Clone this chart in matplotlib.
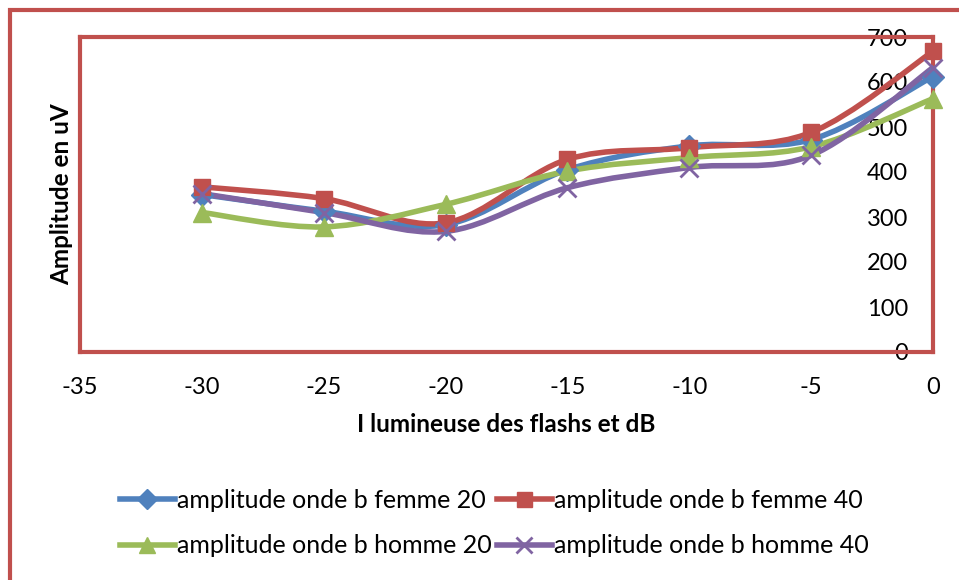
import matplotlib.pyplot as plt
from matplotlib.path import Path
from matplotlib.patches import PathPatch, Rectangle
from matplotlib.lines import Line2D

plt.rcParams['font.family'] = ['Lato', 'DejaVu Sans']
plt.rcParams['axes.unicode_minus'] = False

intensite = [-30, -25, -20, -15, -10, -5, 0]
femme_20 = [350, 313, 283, 405, 458, 472, 612]
femme_40 = [367, 341, 287, 428, 454, 488, 668]
homme_20 = [310, 278, 328, 402, 432, 456, 563]
homme_40 = [352, 310, 268, 365, 410, 437, 632]

series = [
    ("amplitude onde b femme 20", femme_20, '#4F81BD', 'D', 11),
    ("amplitude onde b femme 40", femme_40, '#C0504D', 's', 12),
    ("amplitude onde b homme 20", homme_20, '#9BBB59', '^', 13),
    ("amplitude onde b homme 40", homme_40, '#8064A2', 'x', 13),
]


def smooth_path(xs, ys):
    # excel-like smoothed line: cubic bezier segments (catmull-rom)
    pts = list(zip(xs, ys))
    verts = [pts[0]]
    codes = [Path.MOVETO]
    n = len(pts)
    for i in range(n - 1):
        p0 = pts[i - 1] if i > 0 else pts[i]
        p1 = pts[i]
        p2 = pts[i + 1]
        p3 = pts[i + 2] if i + 2 < n else pts[i + 1]
        c1 = (p1[0] + (p2[0] - p0[0]) / 6, p1[1] + (p2[1] - p0[1]) / 6)
        c2 = (p2[0] - (p3[0] - p1[0]) / 6, p2[1] - (p3[1] - p1[1]) / 6)
        verts += [c1, c2, p2]
        codes += [Path.CURVE4] * 3
    return Path(verts, codes)


def main():
    fig = plt.figure(figsize=(9.59, 5.8), dpi=100)
    fig.patches.append(Rectangle((10 / 959, -0.1), 1.2, 1 - 10 / 580 + 0.1,
                                 transform=fig.transFigure, fill=False,
                                 edgecolor='#C0504D', linewidth=3))
    ax = fig.add_axes([80 / 959, 1 - 352 / 580, 853 / 959, 315 / 580])

    handles = []
    for label, vals, color, marker, ms in series:
        patch = PathPatch(smooth_path(intensite, vals), facecolor='none',
                          edgecolor=color, linewidth=4, capstyle='round',
                          joinstyle='round', zorder=3)
        ax.add_patch(patch)
        ax.plot(intensite, vals, linestyle='none', marker=marker,
                markersize=ms, color=color, markeredgewidth=2 if marker == 'x' else 1,
                zorder=4, clip_on=False)
        handles.append(Line2D([0], [0], color=color, linewidth=4,
                              marker=marker, markersize=ms * 0.9,
                              markeredgewidth=2 if marker == 'x' else 1))

    ax.set_xlim(-35, 0)
    ax.set_ylim(0, 700)
    ax.set_xticks(range(-35, 1, 5))
    ax.set_yticks(range(0, 701, 100))

    for sp in ax.spines.values():
        sp.set_color('#C0504D')
        sp.set_linewidth(3)
    ax.axvline(0, color='#868686', linewidth=1, zorder=2)
    ax.axhline(0, color='#868686', linewidth=1, zorder=2)

    ax.tick_params(axis='x', length=0, pad=18, labelsize=17)
    ax.tick_params(axis='y', left=False, right=True, labelleft=False,
                   labelright=True, length=0, pad=-18, labelsize=17)
    for lbl in ax.get_yticklabels():
        lbl.set_horizontalalignment('right')

    ax.set_ylabel("Amplitude en uV", fontsize=17.5, fontweight='bold', labelpad=5)
    ax.set_xlabel("I lumineuse des flashs et dB", fontsize=17.5,
                  fontweight='bold', labelpad=11)

    # legend filled row by row like the original
    order = [0, 2, 1, 3]
    fig.legend([handles[i] for i in order], [series[i][0] for i in order],
               ncol=2, frameon=False,
               loc='center', bbox_to_anchor=(494 / 959, 1 - 523 / 580),
               fontsize=18, handlelength=2.2, handletextpad=0.08,
               columnspacing=0.2, labelspacing=0.9)

    fig.savefig("out.png", dpi=100)


if __name__ == '__main__':
    main()
